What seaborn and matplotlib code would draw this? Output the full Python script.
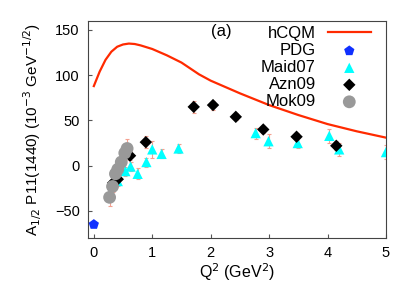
import numpy as np
import pandas as pd
import seaborn as sns
import matplotlib.pyplot as plt

# hCQM curve
q2_curve = [0.0, 0.1, 0.2, 0.3, 0.4, 0.5, 0.6, 0.7, 0.8, 1.0, 1.25, 1.5, 1.8, 2.0, 2.5, 3.0, 3.5, 4.0, 4.5, 5.0]
a_curve = [88, 104, 117, 126, 131.5, 134, 135, 134.5, 133, 129, 122, 114, 101, 94, 80, 67, 56, 46, 38, 31]

# PDG
q2_pdg = [0.0]
a_pdg = [-65]

# Maid07
q2_maid = [0.41, 0.54, 0.63, 0.75, 0.9, 1.0, 1.16, 1.45, 2.77, 2.99, 3.49, 4.03, 4.2, 5.0]
a_maid = [-17, -6, -1, -9, 4, 18, 13, 19, 36, 27, 25, 33, 18, 15]
e_maid = [5, 5, 5, 6, 5, 9, 5, 5, 6, 8, 6, 8, 7, 8]

# Azn09
q2_azn = [0.33, 0.41, 0.62, 0.89, 1.71, 2.04, 2.43, 2.9, 3.47, 4.15]
a_azn = [-19, -15, 11, 26, 65, 67, 54, 40, 32, 22]
e_azn = [4, 4, 5, 7, 7, 5, 4, 4, 4, 5]

# Mok09
q2_mok = [0.27, 0.32, 0.37, 0.41, 0.47, 0.53, 0.57]
a_mok = [-35, -23, -9, -4, 4, 14, 19]
e_mok = [10, 6, 5, 5, 6, 8, 10]

plt.rcParams['font.family'] = ['Liberation Sans', 'DejaVu Sans']
fig = plt.figure(figsize=(4.15, 2.91), dpi=100)
ax = fig.add_axes([0.212, 0.182, 0.718, 0.746])

err_kw = dict(fmt='none', ecolor='#f4a090', elinewidth=0.8, capsize=1.5, capthick=0.8, zorder=1)
ax.errorbar(q2_maid, a_maid, yerr=e_maid, **err_kw)
ax.errorbar(q2_azn, a_azn, yerr=e_azn, **err_kw)
ax.errorbar(q2_mok, a_mok, yerr=e_mok, **err_kw)

sns.lineplot(x=q2_curve, y=a_curve, ax=ax, color='#ff2a00', lw=1.6, label='hCQM', zorder=3)
sns.scatterplot(x=q2_pdg, y=a_pdg, ax=ax, marker='p', s=60, color='#1030ff', edgecolor='none', label='PDG', zorder=4)
sns.scatterplot(x=q2_maid, y=a_maid, ax=ax, marker='^', s=55, color='#00ffff', edgecolor='none', label='Maid07', zorder=4)
sns.scatterplot(x=q2_azn, y=a_azn, ax=ax, marker='D', s=40, color='black', edgecolor='none', label='Azn09', zorder=5)
sns.scatterplot(x=q2_mok, y=a_mok, ax=ax, marker='o', s=85, color='#999999', edgecolor='none', label='Mok09', zorder=6)

ax.set_xlim(-0.1, 5)
ax.set_ylim(-80, 160)
ax.set_xticks([0, 1, 2, 3, 4, 5])
ax.set_yticks([-50, 0, 50, 100, 150])
ax.tick_params(direction='in', length=3, labelsize=10.5, colors='#555555', labelcolor='black',
               top=False, right=False, pad=6)
for s in ax.spines.values():
    s.set_color('#444444')
    s.set_linewidth(0.8)

ax.set_xlabel('Q$^2$ (GeV$^2$)', fontsize=11.5, labelpad=1)
ax.set_ylabel('A$_{1/2}$ P11(1440) (10$^{-3}$ GeV$^{-1/2}$)', fontsize=11, labelpad=8)
ax.text(2.19, 148, '(a)', fontsize=12, ha='center', va='center')

ax.legend(loc='upper right', bbox_to_anchor=(1.0, 1.045), frameon=False, markerfirst=False,
          fontsize=12, handlelength=2.6, labelspacing=0.12, borderaxespad=0.5, handletextpad=0.7)

plt.savefig('out.png', dpi=100)
